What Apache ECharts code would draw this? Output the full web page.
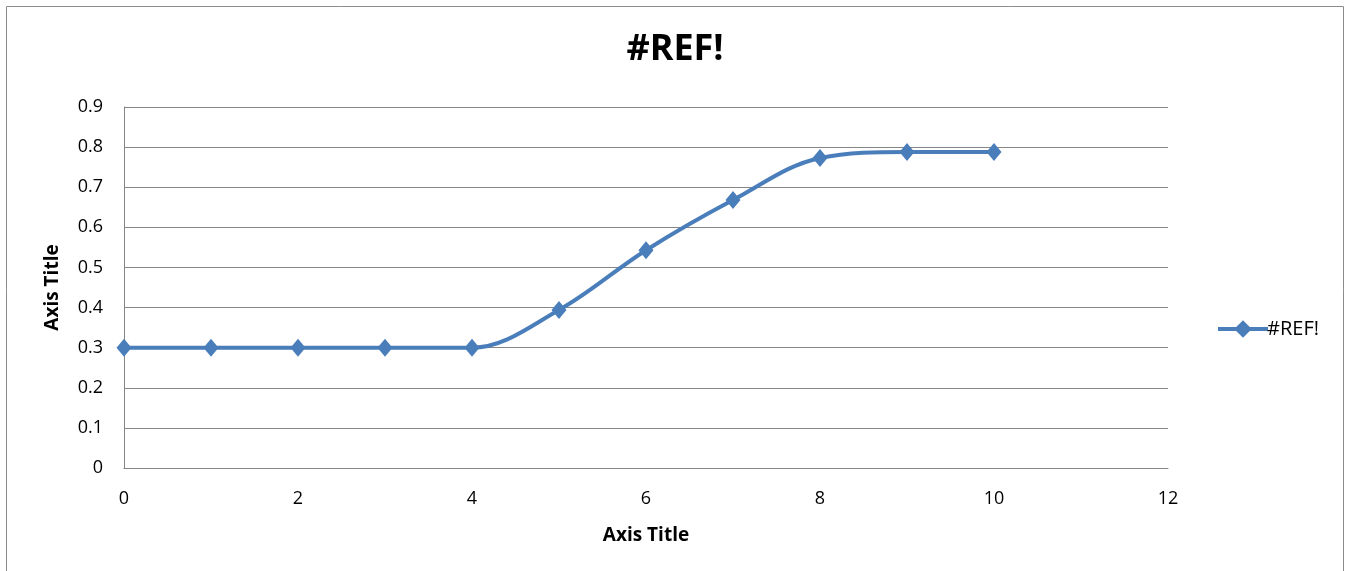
<!DOCTYPE html>
<html>
<head>
<meta charset="utf-8">
<script src="https://cdn.jsdelivr.net/npm/echarts@6/dist/echarts.min.js"></script>
<style>
html,body{margin:0;padding:0;background:#fff;}
#chart{width:1350px;height:571px;}
</style>
</head>
<body>
<div id="chart"></div>
<script>
const xValues = [0, 1, 2, 3, 4, 5, 6, 7, 8, 9, 10];
const yValues = [0.3, 0.3, 0.3, 0.3, 0.3, 0.394, 0.543, 0.668, 0.773, 0.788, 0.788];
const seriesName = '#REF!';
const chartTitle = '#REF!';
const xAxisTitle = 'Axis Title';
const yAxisTitle = 'Axis Title';

const FONT = 'Open Sans, Noto Sans, sans-serif';
const chart = echarts.init(document.getElementById('chart'), null, {renderer: 'canvas'});
chart.setOption({
  animation: false,
  backgroundColor: '#fff',
  title: {
    text: chartTitle,
    left: 'center',
    top: 27,
    textStyle: {fontFamily: FONT, fontSize: 36, fontWeight: 'bold', color: '#000'}
  },
  graphic: [{
    type: 'rect',
    shape: {x: 6.5, y: 6.5, width: 1337, height: 620},
    style: {fill: 'none', stroke: '#8c8c8c', lineWidth: 1},
    silent: true
  }],
  legend: {
    left: 1211,
    top: 314,
    itemWidth: 50,
    itemHeight: 22,
    itemGap: 4,
    lineStyle: {width: 4},
    textStyle: {fontFamily: FONT, fontSize: 20, color: '#000', padding: [0,0,0,-6]},
    data: [seriesName]
  },
  grid: {left: 124, right: 182, top: 107, bottom: 103, containLabel: false},
  xAxis: {
    type: 'value',
    min: 0, max: 12, interval: 2,
    name: xAxisTitle,
    nameLocation: 'middle',
    nameGap: 58,
    nameTextStyle: {fontFamily: FONT, fontSize: 19, fontWeight: 'bold', color: '#000'},
    axisLine: {show: true, onZero: false, lineStyle: {color: '#868686', width: 1}},
    axisTick: {show: false},
    splitLine: {show: false},
    axisLabel: {fontFamily: FONT, fontSize: 18, color: '#000', margin: 22}
  },
  yAxis: {
    type: 'value',
    min: 0, max: 0.9, interval: 0.1,
    name: yAxisTitle,
    nameLocation: 'middle',
    nameGap: 62,
    nameRotate: 90,
    nameTextStyle: {fontFamily: FONT, fontSize: 19, fontWeight: 'bold', color: '#000'},
    axisLine: {show: true, lineStyle: {color: '#868686', width: 1}},
    axisTick: {show: false},
    splitLine: {show: true, lineStyle: {color: '#868686', width: 1}},
    axisLabel: {fontFamily: FONT, fontSize: 18, color: '#000', margin: 21,
      formatter: v => (Math.round(v * 10) / 10).toString()}
  },
  series: [{
    name: seriesName,
    type: 'line',
    data: xValues.map((x, i) => [x, yValues[i]]),
    smooth: 0.35,
    symbol: 'diamond',
    symbolSize: [15, 18],
    lineStyle: {color: '#4a7ebb', width: 4},
    itemStyle: {color: '#4a7ebb'}
  }]
});
</script>
</body>
</html>
